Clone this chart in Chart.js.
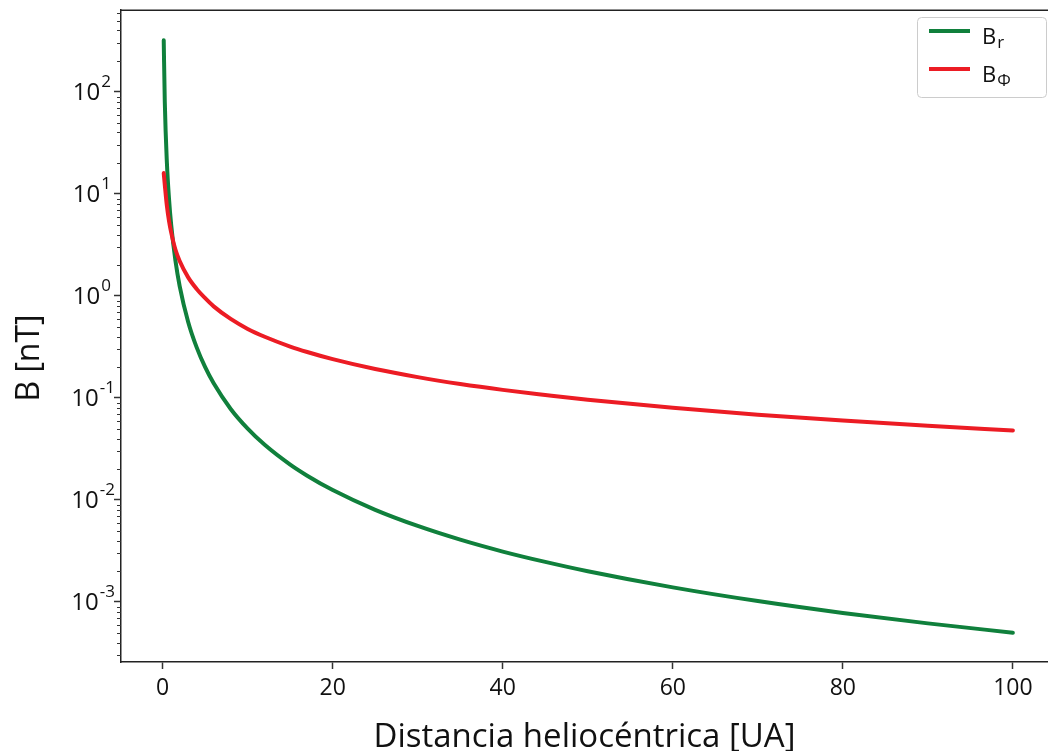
<!DOCTYPE html>
<html>
<head>
<meta charset="utf-8">
<title>Campo magnético interplanetario</title>
<script src="https://cdn.jsdelivr.net/npm/chart.js"></script>
<style>
  html, body { margin: 0; padding: 0; background: #fff; overflow: hidden; }
  canvas { display: block; }
</style>
</head>
<body>
<canvas id="campo" width="1048" height="751"></canvas>
<script>
// distancia heliocéntrica [UA]
const distancia = [0.125, 0.25, 0.5, 0.75, 1, 1.5, 2, 3, 4, 5, 6, 8, 10, 12, 15, 17, 20, 25, 30, 35, 40, 45, 50, 60, 70, 80, 90, 100];
// B_r [nT]
const bRadial = [320, 80, 20, 8.9, 5, 2.22, 1.25, 0.556, 0.313, 0.2, 0.139, 0.078, 0.05, 0.0347, 0.0222, 0.0173, 0.0125, 0.008, 0.00556, 0.00408, 0.00312, 0.00247, 0.002, 0.00139, 0.00102, 0.00078, 0.000617, 0.0005];
// B_phi [nT]
const bAzimutal = [16, 12.3, 7.6, 5.4, 4.2, 2.85, 2.2, 1.52, 1.17, 0.95, 0.79, 0.595, 0.475, 0.398, 0.319, 0.282, 0.24, 0.192, 0.16, 0.137, 0.12, 0.107, 0.096, 0.08, 0.0686, 0.06, 0.0533, 0.048];

const ticksX = [0, 20, 40, 60, 80, 100];
const ticksY = [1e-3, 1e-2, 1e-1, 1, 10, 100];
const exponentesY = ['-3', '-2', '-1', '0', '1', '2'];

const verde = '#10803c';
const rojo = '#ec1c24';
const fuente = '"Open Sans", "DejaVu Sans", sans-serif';

const series = [
  { base: 'B', sub: 'r', color: verde },
  { base: 'B', sub: 'Φ', color: rojo }
];

const pts = vals => distancia.map((d, i) => ({ x: d, y: vals[i] }));

const decor = {
  id: 'decor',
  afterDraw(chart) {
    const { ctx, chartArea: a, scales } = chart;
    const y = scales.y;
    ctx.save();

    // spine de arriba
    ctx.strokeStyle = '#222';
    ctx.lineWidth = 1.5;
    ctx.beginPath();
    ctx.moveTo(a.left, a.top);
    ctx.lineTo(chart.width, a.top);
    ctx.stroke();

    // ticks menores del eje log
    ctx.lineWidth = 1;
    ctx.strokeStyle = '#333';
    for (let k = -4; k <= 2; k++) {
      for (let m = 2; m <= 9; m++) {
        const v = m * Math.pow(10, k);
        if (v < y.min || v > y.max) continue;
        const p = Math.round(y.getPixelForValue(v)) + 0.5;
        ctx.beginPath();
        ctx.moveTo(a.left - 4, p);
        ctx.lineTo(a.left, p);
        ctx.stroke();
      }
    }

    // etiquetas 10^n
    ctx.fillStyle = '#111';
    ctx.textBaseline = 'middle';
    ticksY.forEach((v, i) => {
      const p = y.getPixelForValue(v);
      const exp = exponentesY[i];
      ctx.font = '17px ' + fuente;
      const we = ctx.measureText(exp).width;
      const right = exp.startsWith('-') ? 115 : 111;
      ctx.textAlign = 'left';
      ctx.fillText(exp, right - we, p - 10);
      ctx.font = '24px ' + fuente;
      ctx.textAlign = 'right';
      ctx.fillText('10', right - we - 1, p + 1);
    });

    // titulo eje y
    ctx.save();
    ctx.translate(30, 358);
    ctx.rotate(-Math.PI / 2);
    ctx.font = '32px ' + fuente;
    ctx.textAlign = 'center';
    ctx.textBaseline = 'middle';
    ctx.fillText('B [nT]', 0, 0);
    ctx.restore();

    // leyenda
    const lx = 917, ly = 17, lw = 129, lh = 80;
    ctx.fillStyle = 'rgba(255,255,255,0.85)';
    ctx.strokeStyle = '#cccccc';
    ctx.lineWidth = 1;
    ctx.beginPath();
    ctx.roundRect(lx + 0.5, ly + 0.5, lw, lh, 4);
    ctx.fill();
    ctx.stroke();
    series.forEach((s, i) => {
      const cy = 31 + i * 38;
      ctx.strokeStyle = s.color;
      ctx.lineWidth = 4;
      ctx.beginPath();
      ctx.moveTo(929, cy);
      ctx.lineTo(970, cy);
      ctx.stroke();
      ctx.fillStyle = '#111';
      ctx.textAlign = 'left';
      ctx.textBaseline = 'alphabetic';
      ctx.font = '22px ' + fuente;
      ctx.fillText(s.base, 982, cy + 13);
      const wb = ctx.measureText(s.base).width;
      ctx.font = '17px ' + fuente;
      ctx.fillText(s.sub, 982 + wb + 1, cy + 17);
    });

    ctx.restore();
  }
};

new Chart(document.getElementById('campo'), {
  type: 'line',
  data: {
    datasets: [
      {
        label: 'Br',
        data: pts(bRadial),
        borderColor: verde,
        backgroundColor: verde,
        borderWidth: 4,
        pointRadius: 0,
        cubicInterpolationMode: 'monotone',
        borderCapStyle: 'round',
        borderJoinStyle: 'round',
        order: 1
      },
      {
        label: 'BΦ',
        data: pts(bAzimutal),
        borderColor: rojo,
        backgroundColor: rojo,
        borderWidth: 4,
        pointRadius: 0,
        cubicInterpolationMode: 'monotone',
        borderCapStyle: 'round',
        borderJoinStyle: 'round',
        order: 0
      }
    ]
  },
  options: {
    responsive: false,
    animation: false,
    devicePixelRatio: 1,
    layout: { padding: { top: 8, right: 0, left: 0, bottom: 0 } },
    plugins: {
      legend: { display: false },
      tooltip: { enabled: false }
    },
    scales: {
      x: {
        type: 'linear',
        min: -4.9,
        max: 104.13,
        afterBuildTicks: s => { s.ticks = ticksX.map(v => ({ value: v })); },
        afterFit: s => { s.height = 89; },
        grid: { drawOnChartArea: false, drawTicks: true, tickLength: 7, tickColor: '#333', tickWidth: 1.5 },
        border: { display: true, color: '#222', width: 1.5 },
        ticks: { color: '#111', font: { family: fuente, size: 23 }, padding: 6, maxRotation: 0 },
        title: {
          display: true,
          text: 'Distancia heliocéntrica [UA]',
          color: '#111',
          font: { family: fuente, size: 33, lineHeight: 0.8 },
          padding: 0
        }
      },
      y: {
        type: 'logarithmic',
        min: 2.58e-4,
        max: 632,
        afterBuildTicks: s => { s.ticks = ticksY.map(v => ({ value: v })); },
        afterFit: s => { s.width = 121; },
        grid: { drawOnChartArea: false, drawTicks: true, tickLength: 7, tickColor: '#333', tickWidth: 1.5 },
        border: { display: true, color: '#222', width: 1.5 },
        ticks: { callback: () => '' }
      }
    }
  },
  plugins: [decor]
});
</script>
</body>
</html>
